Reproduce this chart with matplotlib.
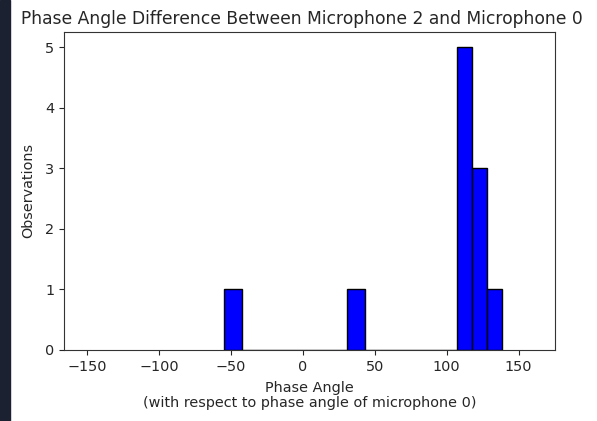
import numpy as np
import matplotlib.pyplot as plt
from matplotlib.patches import Rectangle

# bin edges (degrees) and counts
bin_edges = [-55.0, -42.5, 31.0, 43.0, 107.0, 117.5, 128.0, 138.5]
counts = [1, 0, 1, 0, 5, 3, 1]
bin_centers = [(a + b) / 2 for a, b in zip(bin_edges[:-1], bin_edges[1:])]

fig = plt.figure(figsize=(5.97, 4.21), dpi=100)
ax = fig.add_axes([0.107, 0.169, 0.823, 0.755])

# dark strip on the left of the screenshot
fig.patches.append(Rectangle((0, 0), 10 / 597, 1, transform=fig.transFigure,
                             color='#1b2130', zorder=-1))

ax.hist(bin_centers, bins=bin_edges, weights=counts, color='blue', edgecolor='black')
ax.set_xlim(-166, 175.5)
ax.set_ylim(0, 5.25)
ax.set_xticks([-150, -100, -50, 0, 50, 100, 150])
ax.set_yticks([0, 1, 2, 3, 4, 5])

txt = '#262626'
ax.set_title("Phase Angle Difference Between Microphone 2 and Microphone 0",
             fontsize=12.3, x=0.485, color=txt)
ax.set_xlabel("Phase Angle\n(with respect to phase angle of microphone 0)",
              fontsize=10.4, labelpad=5, color=txt, linespacing=1.1)
ax.set_ylabel("Observations", fontsize=10.4, labelpad=7, color=txt)
ax.tick_params(labelsize=10.4, colors=txt)
for s in ax.spines.values():
    s.set_color('#333333')

fig.savefig("out.png", dpi=100)
